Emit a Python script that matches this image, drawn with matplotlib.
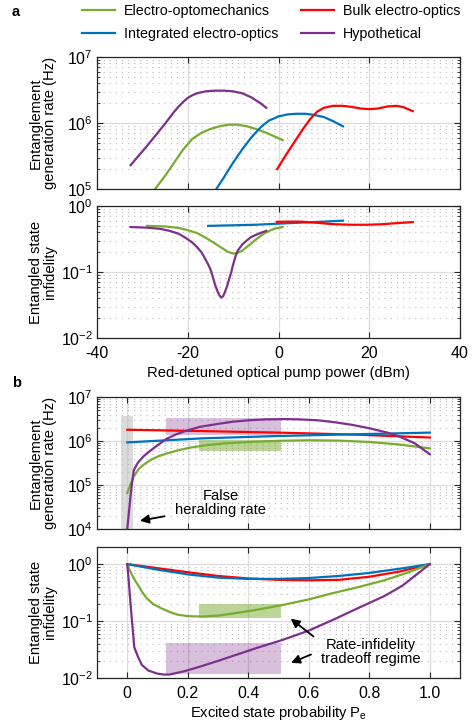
import numpy as np
import matplotlib
matplotlib.use('Agg')
import matplotlib.pyplot as plt
from matplotlib.ticker import LogLocator, NullFormatter

plt.rcParams['font.family'] = ['Liberation Sans', 'DejaVu Sans']
plt.rcParams['mathtext.fontset'] = 'custom'
plt.rcParams['mathtext.rm'] = 'Liberation Sans'
plt.rcParams['axes.unicode_minus'] = False
fs = 10.3      # legend
fs_lab = 10.6  # axis labels, notes
fs_tick = 11.5
plt.rcParams['font.size'] = fs_lab

# colours (MATLAB style)
green = '#77AC30'
blue = '#0072BD'
red = '#FF0000'
purple = '#7E2F8E'

names = ['Electro-optomechanics', 'Integrated electro-optics', 'Bulk electro-optics', 'Hypothetical']

# ---- panel a, rate vs pump power (dBm) ----
a_eom_x = [-28.5, -27.2, -25, -23, -21, -19, -17, -15, -13, -11, -9, -7, -5, -3, -1, 0.9]
a_eom_rate = [7.4e4, 1.0e5, 1.58e5, 2.51e5, 3.98e5, 5.75e5, 7.08e5, 8.13e5, 8.91e5, 9.44e5,
              9.44e5, 8.91e5, 8.13e5, 7.24e5, 6.31e5, 5.5e5]
a_ieo_x = [-15, -13.7, -12, -10, -8, -6, -4, -3, -2, -1, 0, 2, 4, 6, 8, 10, 12, 14.2]
a_ieo_rate = [7.2e4, 1.0e5, 1.51e5, 2.51e5, 3.98e5, 6.03e5, 8.51e5, 9.77e5, 1.10e6, 1.17e6,
              1.26e6, 1.35e6, 1.38e6, 1.38e6, 1.32e6, 1.23e6, 1.07e6, 8.9e5]
a_beo_x = [-0.3, 1.5, 3.4, 5.5, 7, 8.5, 10, 12, 14, 16, 18, 20, 22, 24, 26, 27.5, 29.6]
a_beo_rate = [2.0e5, 3.16e5, 5.01e5, 8.3e5, 1.15e6, 1.48e6, 1.70e6, 1.82e6, 1.82e6, 1.76e6,
              1.66e6, 1.62e6, 1.66e6, 1.78e6, 1.82e6, 1.74e6, 1.51e6]
a_hyp_x = [-32.6, -31, -29, -27, -25, -23, -22, -21, -20, -19, -18, -16, -14, -12, -10, -8, -6, -4, -2.7]
a_hyp_rate = [2.29e5, 3.09e5, 4.47e5, 6.61e5, 9.77e5, 1.48e6, 1.78e6, 2.09e6, 2.40e6, 2.63e6,
              2.82e6, 3.02e6, 3.09e6, 3.09e6, 3.02e6, 2.82e6, 2.45e6, 2.0e6, 1.7e6]

# ---- panel a, infidelity vs pump power ----
a_eom_inf_x = [-29, -25, -22, -20, -18, -16, -14, -12, -11, -10, -9, -8, -7, -6, -5, -4, -3, -2, -1, 0.9]
a_eom_inf = [0.50, 0.49, 0.465, 0.43, 0.39, 0.33, 0.27, 0.22, 0.20, 0.19, 0.195, 0.21, 0.24,
             0.27, 0.31, 0.35, 0.39, 0.42, 0.45, 0.48]
a_ieo_inf_x = [-15.5, -10, -5, 0, 5, 10, 14.2]
a_ieo_inf = [0.50, 0.51, 0.52, 0.54, 0.56, 0.58, 0.60]
a_beo_inf_x = [-0.3, 2, 4.8, 8, 12.1, 16, 19.6, 23, 26, 29.6]
a_beo_inf = [0.575, 0.58, 0.58, 0.56, 0.53, 0.52, 0.52, 0.53, 0.55, 0.57]
a_hyp_inf_x = [-32.6, -29, -26, -24, -22, -20.5, -19, -18, -17, -16.4, -15.5, -15, -14.5, -14, -13.5,
               -13, -12.6, -12.2, -11.8, -11.3, -10.9, -10.4, -10, -9.5, -9, -8, -7, -6, -4, -2.7]
a_hyp_inf = [0.48, 0.47, 0.45, 0.42, 0.38, 0.33, 0.28, 0.24, 0.20, 0.17, 0.13, 0.11, 0.085, 0.065,
             0.052, 0.044, 0.041, 0.043, 0.05, 0.062, 0.077, 0.10, 0.13, 0.17, 0.21, 0.26, 0.30,
             0.34, 0.39, 0.42]

# ---- panel b, rate vs excited state probability ----
b_x = [0, 0.25, 0.5, 0.75, 1.0]
b_beo_rate = [1.8e6, 1.68e6, 1.55e6, 1.4e6, 1.2e6]
b_ieo_rate = [9.3e5, 1.15e6, 1.3e6, 1.42e6, 1.55e6]
b_eom_x = [0, 0.01, 0.021, 0.04, 0.06, 0.08, 0.1, 0.13, 0.17, 0.21, 0.26, 0.32, 0.4, 0.5, 0.6, 0.7, 0.8, 0.9, 1.0]
b_eom_rate = [6.6e4, 1.0e5, 1.55e5, 2.4e5, 3.1e5, 3.8e5, 4.4e5, 5.2e5, 6.2e5, 7.1e5, 8.0e5, 8.8e5,
              9.5e5, 1.01e6, 1.04e6, 1.02e6, 9.5e5, 8.3e5, 6.8e5]
b_hyp_x = [0, 0.005, 0.01, 0.015, 0.022, 0.035, 0.054, 0.076, 0.1, 0.13, 0.16, 0.19, 0.24, 0.3, 0.35,
           0.4, 0.46, 0.52, 0.57, 0.63, 0.68, 0.74, 0.8, 0.86, 0.9, 0.95, 1.0]
b_hyp_rate = [1.0e4, 2.2e4, 5.0e4, 1.0e5, 2.2e5, 3.2e5, 4.5e5, 6.0e5, 8.0e5, 1.12e6, 1.4e6, 1.66e6,
              2.1e6, 2.45e6, 2.75e6, 2.95e6, 3.1e6, 3.15e6, 3.1e6, 2.95e6, 2.7e6, 2.35e6, 1.95e6,
              1.55e6, 1.26e6, 8.9e5, 5.0e5]

# ---- panel b, infidelity vs excited state probability ----
b_inf_x = [0, 0.1, 0.2, 0.3, 0.4, 0.5, 0.6, 0.7, 0.8, 0.9, 1.0]
b_beo_inf = [1.0, 0.85, 0.72, 0.62, 0.56, 0.53, 0.52, 0.53, 0.60, 0.74, 1.0]
b_ieo_inf = [1.0, 0.80, 0.66, 0.58, 0.55, 0.55, 0.57, 0.62, 0.70, 0.83, 1.0]
b_eom_inf_x = [0, 0.01, 0.02, 0.032, 0.05, 0.065, 0.085, 0.11, 0.14, 0.165, 0.2, 0.25, 0.3, 0.35,
               0.42, 0.51, 0.6, 0.68, 0.76, 0.85, 0.93, 1.0]
b_eom_inf = [1.0, 0.75, 0.58, 0.46, 0.32, 0.25, 0.2, 0.17, 0.145, 0.13, 0.122, 0.12, 0.125, 0.136,
             0.155, 0.19, 0.24, 0.31, 0.39, 0.52, 0.72, 1.0]
b_hyp_inf_x = [0, 0.005, 0.01, 0.015, 0.02, 0.023, 0.035, 0.048, 0.07, 0.098, 0.12, 0.14, 0.19, 0.24,
               0.3, 0.35, 0.43, 0.51, 0.6, 0.68, 0.76, 0.85, 0.91, 0.96, 1.0]
b_hyp_inf = [1.0, 0.5, 0.23, 0.11, 0.055, 0.035, 0.024, 0.017, 0.0135, 0.012, 0.0115, 0.0115, 0.0132,
             0.0158, 0.020, 0.0245, 0.034, 0.046, 0.068, 0.105, 0.166, 0.275, 0.42, 0.68, 1.0]

# shaded regions (x0, x1, y0, y1)
gray_box = (-0.02, 0.019, 1e4, 3.7e6)
rate_hyp_box = (0.128, 0.507, 1.4e6, 3.4e6)
rate_eom_box = (0.236, 0.507, 5.9e5, 1.05e6)
inf_eom_box = (0.236, 0.507, 0.115, 0.2)
inf_hyp_box = (0.128, 0.507, 0.0118, 0.042)

W, H = 476, 724
fig = plt.figure(figsize=(W / 100, H / 100), dpi=100)


def make_axes(top, bottom):
    return fig.add_axes([97 / W, 1 - bottom / H, 363 / W, (bottom - top) / H])


def style(ax):
    ax.set_yscale('log')
    ax.set_axisbelow(True)
    ax.yaxis.set_minor_locator(LogLocator(base=10, subs=np.arange(2, 10)))
    ax.yaxis.set_minor_formatter(NullFormatter())
    ax.grid(True, which='major', color='#dcdcdc', lw=0.9, ls='-')
    ax.grid(True, which='minor', axis='y', color='#b8b8b8', lw=0.8, ls=(0, (1, 4.5)))
    ax.tick_params(which='both', direction='in', top=True, right=True, color='#262626', labelsize=fs_tick)
    ax.tick_params(which='major', length=4)
    ax.tick_params(which='minor', length=2)
    ax.tick_params(axis='x', pad=6)
    ax.tick_params(axis='y', pad=3)
    for s in ax.spines.values():
        s.set_color('#262626')
        s.set_linewidth(0.9)


def ylab(ax, text):
    ax.set_ylabel(text, va='center', linespacing=1.05)
    ax.yaxis.set_label_coords(-54 / 363, 0.5)


def arrow(ax, tip, tail):
    ax.annotate('', xy=tip, xytext=tail,
                arrowprops=dict(arrowstyle='-|>', color='black', lw=1.3, mutation_scale=13))


lw = 1.6

# a, rate
ax1 = make_axes(57, 189)
style(ax1)
l1, = ax1.plot(a_eom_x, a_eom_rate, color=green, lw=lw)
l2, = ax1.plot(a_ieo_x, a_ieo_rate, color=blue, lw=lw)
l3, = ax1.plot(a_beo_x, a_beo_rate, color=red, lw=lw)
l4, = ax1.plot(a_hyp_x, a_hyp_rate, color=purple, lw=lw)
ax1.set_xlim(-40, 40)
ax1.set_ylim(1e5, 1e7)
ax1.set_xticks([-40, -20, 0, 20, 40])
ax1.set_xticklabels([])
ylab(ax1, 'Entanglement\ngeneration rate (Hz)')

# a, infidelity
ax2 = make_axes(206, 338)
style(ax2)
ax2.plot(a_eom_inf_x, a_eom_inf, color=green, lw=lw)
ax2.plot(a_ieo_inf_x, a_ieo_inf, color=blue, lw=lw)
ax2.plot(a_beo_inf_x, a_beo_inf, color=red, lw=lw)
ax2.plot(a_hyp_inf_x, a_hyp_inf, color=purple, lw=lw)
ax2.set_xlim(-40, 40)
ax2.set_ylim(1e-2, 1)
ax2.set_xticks([-40, -20, 0, 20, 40])
ylab(ax2, 'Entangled state\ninfidelity')
ax2.set_xlabel('Red-detuned optical pump power (dBm)', labelpad=3)

# b, rate
ax3 = make_axes(397, 529)
style(ax3)
for box, c, al in [(gray_box, '#bfbfbf', 0.55), (rate_hyp_box, purple, 0.3), (rate_eom_box, green, 0.5)]:
    ax3.fill_between([box[0], box[1]], box[2], box[3], color=c, alpha=al, lw=0, zorder=1.5)
ax3.plot(b_x, b_beo_rate, color=red, lw=lw)
ax3.plot(b_x, b_ieo_rate, color=blue, lw=lw)
ax3.plot(b_eom_x, b_eom_rate, color=green, lw=lw)
ax3.plot(b_hyp_x, b_hyp_rate, color=purple, lw=lw)
ax3.set_xlim(-0.1, 1.1)
ax3.set_ylim(1e4, 1e7)
ax3.set_xticks([0, 0.2, 0.4, 0.6, 0.8, 1.0])
ax3.set_xticklabels([])
ylab(ax3, 'Entanglement\ngeneration rate (Hz)')
ax3.text(0.308, 3.8e4, 'False\nheralding rate', ha='center', va='center', linespacing=1.0)
arrow(ax3, (0.033, 1.5e4), (0.132, 2.0e4))

# b, infidelity
ax4 = make_axes(547, 678)
style(ax4)
for box, c, al in [(inf_eom_box, green, 0.5), (inf_hyp_box, purple, 0.3)]:
    ax4.fill_between([box[0], box[1]], box[2], box[3], color=c, alpha=al, lw=0, zorder=1.5)
ax4.plot(b_inf_x, b_beo_inf, color=red, lw=lw)
ax4.plot(b_inf_x, b_ieo_inf, color=blue, lw=lw)
ax4.plot(b_eom_inf_x, b_eom_inf, color=green, lw=lw)
ax4.plot(b_hyp_inf_x, b_hyp_inf, color=purple, lw=lw)
ax4.set_xlim(-0.1, 1.1)
ax4.set_ylim(1e-2, 2)
ax4.set_xticks([0, 0.2, 0.4, 0.6, 0.8, 1.0])
ax4.set_xticklabels(['0', '0.2', '0.4', '0.6', '0.8', '1.0'])
ylab(ax4, 'Entangled state\ninfidelity')
ax4.set_xlabel(r'Excited state probability P$_{\mathregular{e}}$', labelpad=2)
ax4.text(0.805, 0.029, 'Rate-infidelity\ntradeoff regime', ha='center', va='center', linespacing=1.0)
arrow(ax4, (0.533, 0.118), (0.623, 0.05))
arrow(ax4, (0.533, 0.0177), (0.616, 0.027))

# legend
fig.legend([l1, l2, l3, l4], names, ncol=2, frameon=False, loc='upper left',
           bbox_to_anchor=(82 / W, 1 - 4 / H), borderpad=0, borderaxespad=0,
           handlelength=2.3, handletextpad=0.62, columnspacing=1.6, labelspacing=0.62,
           fontsize=fs)

fig.text(12 / W, 1 - 12 / H, 'a', fontweight='bold', fontsize=10.5, va='center')
fig.text(12 / W, 1 - 383 / H, 'b', fontweight='bold', fontsize=10.5, va='center')

fig.savefig('out.png', dpi=100)
